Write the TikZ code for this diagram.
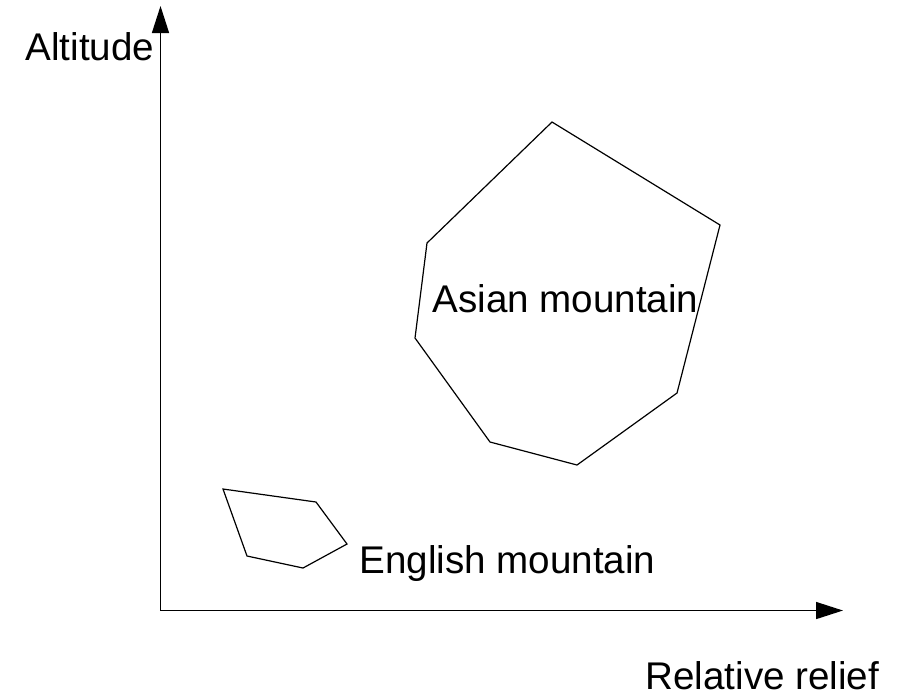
\documentclass[tikz,border=0pt]{standalone}
\usepackage{fontspec}
\setmainfont{Liberation Sans}
\usetikzlibrary{arrows.meta}
\begin{document}
\begin{tikzpicture}[x=0.5pt,y=-0.5pt,
  lbl/.style={inner sep=0pt,anchor=base west,font=\fontsize{19.3pt}{23pt}\selectfont},
  axis/.style={line width=0.7pt,-{Triangle[length=13.5pt,width=8.5pt]}},
  region/.style={line width=0.6pt,line join=miter}]
\useasboundingbox (0,0) rectangle (897,698);
% axes
\coordinate (O) at (160.5,610.5);
\coordinate (Ytip) at (160.5,6);
\coordinate (Xtip) at (843,610.5);
\draw[axis] (O) -- (Ytip);
\draw[axis] (O) -- (Xtip);
% labels
\node[lbl] (alt) at (25,60) {Altitude};
\node[lbl] (rel) at (645,689) {Relative relief};
% Asian mountain
\coordinate (a1) at (552,122);
\coordinate (a2) at (720,225);
\coordinate (a3) at (677,393);
\coordinate (a4) at (577,465);
\coordinate (a5) at (490,442);
\coordinate (a6) at (415,338);
\coordinate (a7) at (427,243);
\draw[region] (a1) -- (a2) -- (a3) -- (a4) -- (a5) -- (a6) -- (a7) -- cycle;
\node[lbl] (asian) at (432,312) {Asian mountain};
% English mountain
\coordinate (e1) at (223,489);
\coordinate (e2) at (316,502);
\coordinate (e3) at (347,544);
\coordinate (e4) at (303,568);
\coordinate (e5) at (247,556);
\draw[region] (e1) -- (e2) -- (e3) -- (e4) -- (e5) -- cycle;
\node[lbl] (english) at (359,573) {English mountain};
\end{tikzpicture}
\end{document}
